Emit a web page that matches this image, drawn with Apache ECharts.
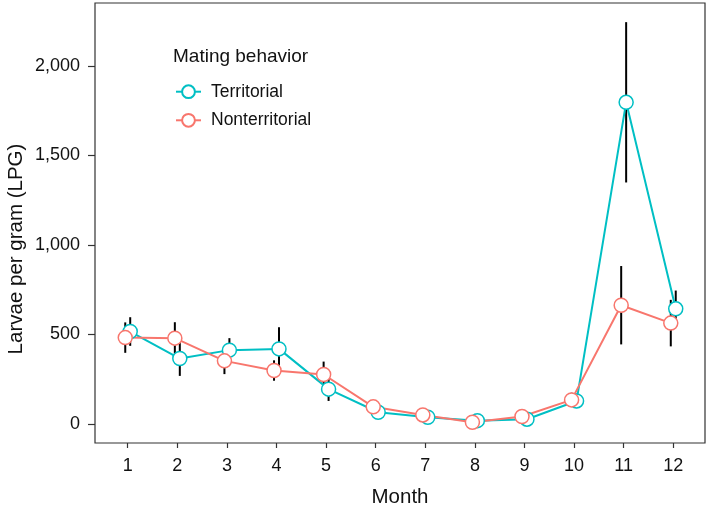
<!DOCTYPE html>
<html>
<head>
<meta charset="utf-8">
<script src="https://cdn.jsdelivr.net/npm/echarts@6/dist/echarts.min.js"></script>
<style>html,body{margin:0;padding:0;background:#fff}#c{width:709px;height:510px}</style>
</head>
<body>
<div id="c"></div>
<script>
const months = [1,2,3,4,5,6,7,8,9,10,11,12];
const monthLabels = ['1','2','3','4','5','6','7','8','9','10','11','12'];
const yTicks = [0, 500, 1000, 1500, 2000];
const territorial   = [516, 365, 412, 419, 194, 65, 37, 18, 26, 128, 1797, 643];
const territorialSE = [80, 97, 67, 121, 66, 15, 12, 8, 10, 40, 448, 102];
const nonterritorial   = [482, 479, 352, 298, 276, 95, 50, 9, 41, 134, 663, 563];
const nonterritorialSE = [85, 89, 74, 57, 72, 15, 38, 8, 12, 40, 219, 130];
const DODGE = 0.05;
const TEAL = '#00BFC4', RED = '#F8766D';
const FONT = 'Liberation Sans';
const INK = '#111';

function pts(vals, off){ return months.map((m,i)=>[m+off, vals[i]]); }
function errs(vals, se, off){ return months.map((m,i)=>[m+off, vals[i]-se[i], vals[i]+se[i]]); }

function errSeries(name, data){
  return {
    type:'custom', name:name+' SE', z:1, silent:true,
    data:data,
    encode:{x:0, y:[1,2]},
    renderItem:function(params, api){
      const p1 = api.coord([api.value(0), api.value(1)]);
      const p2 = api.coord([api.value(0), api.value(2)]);
      return {type:'line', shape:{x1:p1[0], y1:p1[1], x2:p2[0], y2:p2[1]},
              style:{stroke:'#000', lineWidth:2}};
    }
  };
}
function lineSeries(name, color, data){
  return {
    type:'line', name:name, z:3, data:data,
    symbol:'circle', symbolSize:14,
    lineStyle:{color:color, width:2},
    itemStyle:{color:'#fff', borderColor:color, borderWidth:1.5},
    emphasis:{disabled:true}
  };
}

const chart = echarts.init(document.getElementById('c'), null, {renderer:'canvas'});
chart.setOption({
  animation:false,
  backgroundColor:'#fff',
  textStyle:{fontFamily:FONT},
  grid:{left:95, right:4, top:3, bottom:67, show:true, outerBoundsMode:'none', containLabel:false,
        borderColor:'#333', borderWidth:1.2, backgroundColor:'transparent'},
  title:{text:'Mating behavior', left:173, top:47, padding:0,
    textStyle:{fontFamily:FONT, fontSize:19, fontWeight:'normal', color:INK}},
  legend:{
    data:['Territorial','Nonterritorial'],
    orient:'vertical', left:175, top:82.7, padding:0,
    itemWidth:25, itemHeight:16, itemGap:10.6,
    textStyle:{fontFamily:FONT, fontSize:17.5, lineHeight:16, color:INK, padding:[0,0,0,5]}
  },
  graphic:[{
    type:'text', x:16.5, y:249, rotation:Math.PI/2,
    style:{text:'Larvae per gram (LPG)', fontFamily:FONT, fontSize:20.5, fill:INK,
           align:'center', verticalAlign:'middle'}
  }],
  xAxis:{
    type:'value', min:0.34, max:12.64,
    name:'Month', nameLocation:'middle', nameGap:44,
    nameTextStyle:{fontFamily:FONT, fontSize:20.5, color:INK},
    axisLine:{show:false, onZero:false},
    splitLine:{show:false},
    axisTick:{show:true, length:5, lineStyle:{color:'#333', width:1.2}, customValues:months},
    axisLabel:{fontFamily:FONT, fontSize:18, color:INK, margin:14, customValues:months,
      formatter:function(v){ return monthLabels[months.indexOf(Math.round(v))] || ''; }}
  },
  yAxis:{
    type:'value', min:-107, max:2352,
    axisLine:{show:false, onZero:false},
    splitLine:{show:false},
    axisTick:{show:true, length:7, lineStyle:{color:'#333', width:1.2}, customValues:yTicks},
    axisLabel:{fontFamily:FONT, fontSize:18, color:INK, margin:15, customValues:yTicks,
      formatter:function(v){ return Math.round(v).toLocaleString('en-US'); }}
  },
  series:[
    errSeries('Territorial', errs(territorial, territorialSE, DODGE)),
    errSeries('Nonterritorial', errs(nonterritorial, nonterritorialSE, -DODGE)),
    lineSeries('Territorial', TEAL, pts(territorial, DODGE)),
    lineSeries('Nonterritorial', RED, pts(nonterritorial, -DODGE))
  ]
});
</script>
</body>
</html>
